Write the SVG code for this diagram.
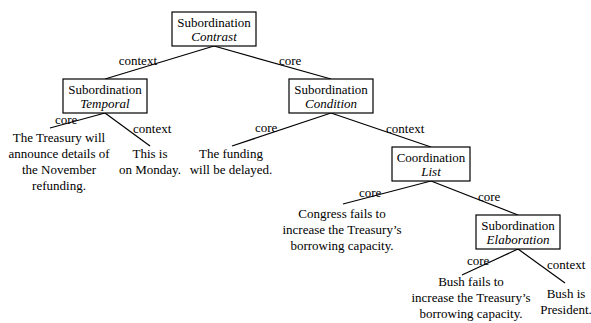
<svg xmlns="http://www.w3.org/2000/svg" width="591" height="323" viewBox="0 0 591 323" font-family="Liberation Serif, Times New Roman, DejaVu Serif, serif" font-size="13">
<style>
text{font-family:'Liberation Serif','Times New Roman','DejaVu Serif',serif;font-size:13px;fill:#000}
.c{text-anchor:middle}
.i{font-style:italic}
.e{text-anchor:end}
rect{fill:#fff;stroke:#000;stroke-width:1.2}
line{stroke:#000;stroke-width:1.2}
</style>
<rect x="0" y="0" width="591" height="323" style="fill:#fff;stroke:none"/>
<g id="connectors">
<line x1="214" y1="46" x2="105" y2="79"/>
<line x1="214" y1="46" x2="331" y2="79"/>
<line x1="105" y1="113" x2="50" y2="128"/>
<line x1="105" y1="113" x2="150" y2="146"/>
<line x1="331" y1="113" x2="232" y2="146"/>
<line x1="331" y1="113" x2="431" y2="147"/>
<line x1="431" y1="181" x2="343" y2="204"/>
<line x1="431" y1="181" x2="518" y2="215"/>
<line x1="518" y1="249" x2="462" y2="275"/>
<line x1="518" y1="249" x2="565" y2="283"/>
</g>
<g id="labels">
<text x="157" y="65" class="e">context</text>
<text x="279" y="65">core</text>
<text x="55" y="124">core</text>
<text x="133" y="133">context</text>
<text x="255" y="132">core</text>
<text x="386" y="133">context</text>
<text x="359" y="197">core</text>
<text x="478" y="201">core</text>
<text x="467" y="265">core</text>
<text x="547" y="269">context</text>
</g>
<g id="n-contrast">
<rect x="172" y="12" width="84" height="34"/>
<text x="214" y="27" class="c">Subordination</text>
<text x="214" y="41" class="c i">Contrast</text>
</g>
<g id="n-temporal">
<rect x="63" y="79" width="84" height="34"/>
<text x="105" y="94" class="c">Subordination</text>
<text x="105" y="108" class="c i">Temporal</text>
</g>
<g id="n-condition">
<rect x="289" y="79" width="84" height="34"/>
<text x="331" y="94" class="c">Subordination</text>
<text x="331" y="108" class="c i">Condition</text>
</g>
<g id="n-list">
<rect x="392" y="147" width="78" height="34"/>
<text x="431" y="162" class="c">Coordination</text>
<text x="431" y="176" class="c i">List</text>
</g>
<g id="n-elaboration">
<rect x="476" y="215" width="84" height="34"/>
<text x="518" y="230" class="c">Subordination</text>
<text x="518" y="244" class="c i">Elaboration</text>
</g>
<g id="leaf-treasury">
<text x="59" y="142" class="c">The Treasury will</text>
<text x="59" y="158" class="c">announce details of</text>
<text x="59" y="174" class="c">the November</text>
<text x="59" y="190" class="c">refunding.</text>
</g>
<g id="leaf-monday">
<text x="150" y="158" class="c">This is</text>
<text x="150" y="174" class="c">on Monday.</text>
</g>
<g id="leaf-funding">
<text x="231" y="158" class="c">The funding</text>
<text x="231" y="174" class="c">will be delayed.</text>
</g>
<g id="leaf-congress">
<text x="342" y="218" class="c">Congress fails to</text>
<text x="342" y="234" class="c">increase the Treasury’s</text>
<text x="342" y="250" class="c">borrowing capacity.</text>
</g>
<g id="leaf-bush-fails">
<text x="471" y="286" class="c">Bush fails to</text>
<text x="471" y="302" class="c">increase the Treasury’s</text>
<text x="471" y="318" class="c">borrowing capacity.</text>
</g>
<g id="leaf-bush-president">
<text x="566" y="298" class="c">Bush is</text>
<text x="566" y="314" class="c">President.</text>
</g>
</svg>
